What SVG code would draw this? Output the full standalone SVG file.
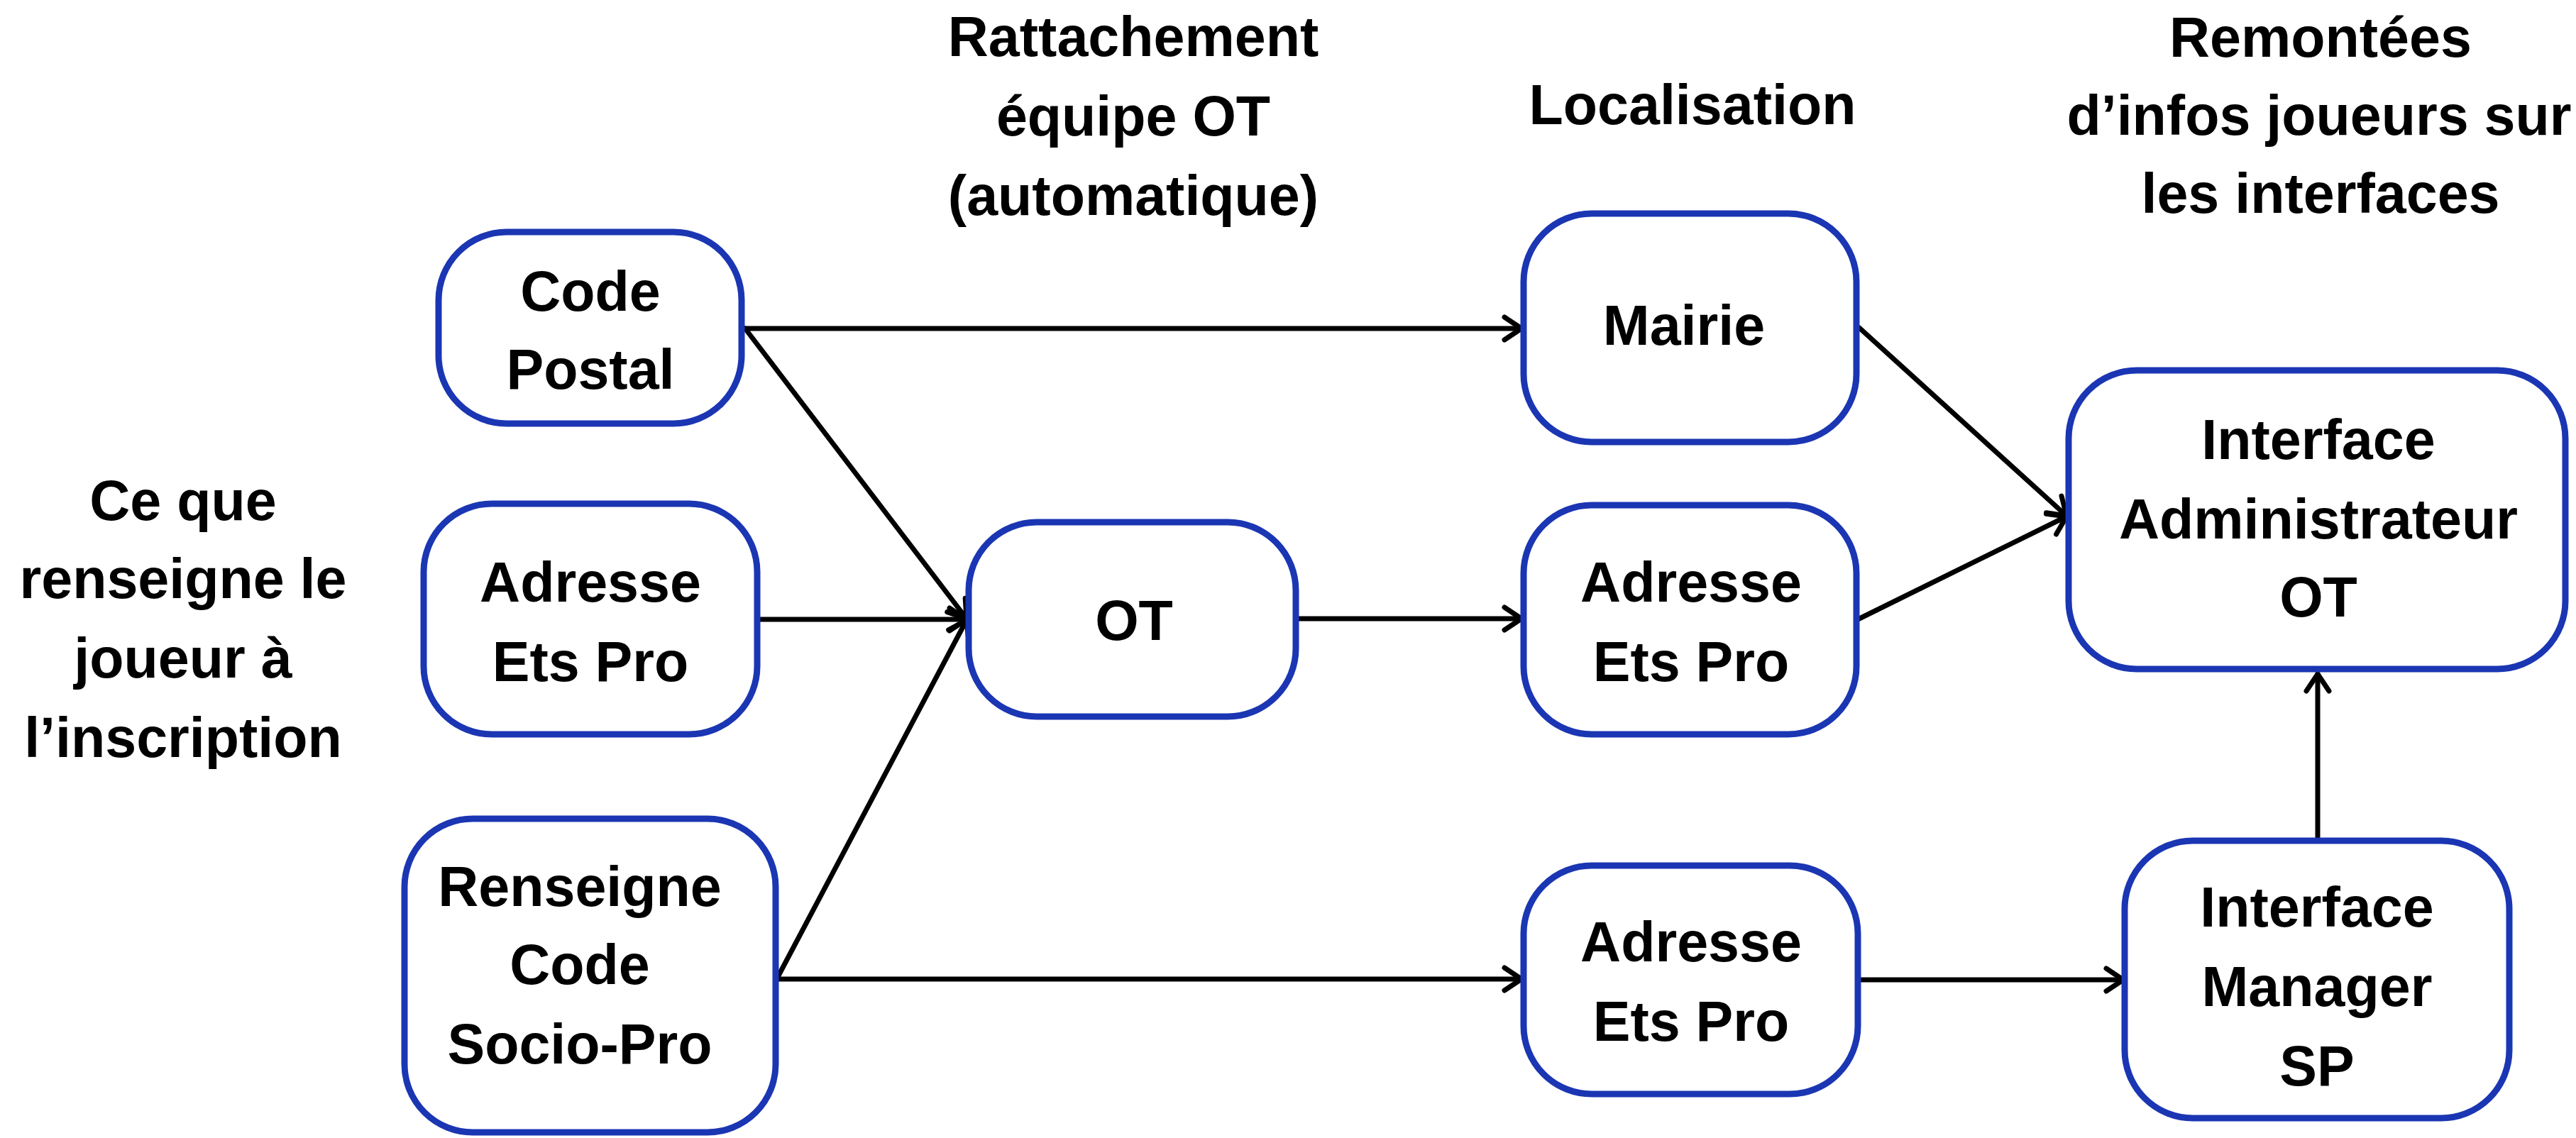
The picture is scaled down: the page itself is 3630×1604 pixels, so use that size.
<svg xmlns="http://www.w3.org/2000/svg" width="3630" height="1604" viewBox="0 0 3630 1604">
<style>
.box{fill:#ffffff;stroke:#1b36b3;stroke-width:9}
.t{font-family:"Liberation Sans",Arial,sans-serif;font-weight:bold;font-size:79px;fill:#000;text-anchor:middle}
.c{stroke:#000;stroke-width:7;fill:none;stroke-linecap:round}
</style>
<defs>
<marker id="ah" markerUnits="userSpaceOnUse" markerWidth="60" markerHeight="60" viewBox="-40 -30 50 60" refX="0" refY="0" orient="auto">
<path d="M-24,-16 L0,0 L-24,16" fill="none" stroke="#000" stroke-width="7" stroke-linecap="round" stroke-linejoin="round"/>
</marker>
</defs>
<rect width="3630" height="1604" fill="#ffffff"/>
<g id="headers">
<text class="t" x="1597" y="79">Rattachement</text>
<text class="t" x="1597" y="191">équipe OT</text>
<text class="t" x="1597" y="303">(automatique)</text>
<text class="t" x="2385" y="175">Localisation</text>
<text class="t" x="3270" y="80">Remontées</text>
<text class="t" x="3268" y="190">d’infos joueurs sur</text>
<text class="t" x="3270" y="300">les interfaces</text>
<text class="t" x="258" y="733">Ce que</text>
<text class="t" x="258" y="843">renseigne le</text>
<text class="t" x="258" y="955">joueur à</text>
<text class="t" x="258" y="1067">l’inscription</text>
</g>
<g id="connectors">
<line class="c" x1="1050" y1="463" x2="2144" y2="463" marker-end="url(#ah)"/>
<line class="c" x1="1050" y1="463" x2="1362" y2="872" marker-end="url(#ah)"/>
<line class="c" x1="1068" y1="873" x2="1362" y2="873" marker-end="url(#ah)"/>
<line class="c" x1="1095" y1="1379" x2="1362" y2="874" marker-end="url(#ah)"/>
<line class="c" x1="1095" y1="1380" x2="2144" y2="1380" marker-end="url(#ah)"/>
<line class="c" x1="1829" y1="872" x2="2144" y2="872" marker-end="url(#ah)"/>
<line class="c" x1="2620" y1="462" x2="2912" y2="727" marker-end="url(#ah)"/>
<line class="c" x1="2620" y1="872" x2="2912" y2="728" marker-end="url(#ah)"/>
<line class="c" x1="2620" y1="1381" x2="2992" y2="1381" marker-end="url(#ah)"/>
<line class="c" x1="3266" y1="1185" x2="3266" y2="950" marker-end="url(#ah)"/>
</g>
<g id="node-code-postal">
<rect class="box" x="618" y="327" width="427" height="270" rx="96" ry="96"/>
<text class="t" x="832" y="438">Code</text>
<text class="t" x="832" y="548">Postal</text>
</g>
<g id="node-adresse-1">
<rect class="box" x="597" y="710" width="470" height="325" rx="96" ry="96"/>
<text class="t" x="832" y="848">Adresse</text>
<text class="t" x="832" y="960">Ets Pro</text>
</g>
<g id="node-renseigne">
<rect class="box" x="570" y="1154" width="523" height="442" rx="96" ry="96"/>
<text class="t" x="817" y="1277">Renseigne</text>
<text class="t" x="817" y="1387">Code</text>
<text class="t" x="817" y="1499">Socio-Pro</text>
</g>
<g id="node-ot">
<rect class="box" x="1365" y="736" width="461" height="274" rx="96" ry="96"/>
<text class="t" x="1598" y="902">OT</text>
</g>
<g id="node-mairie">
<rect class="box" x="2147" y="301" width="469" height="322" rx="96" ry="96"/>
<text class="t" x="2373" y="486">Mairie</text>
</g>
<g id="node-adresse-2">
<rect class="box" x="2147" y="712" width="469" height="323" rx="96" ry="96"/>
<text class="t" x="2383" y="848">Adresse</text>
<text class="t" x="2383" y="960">Ets Pro</text>
</g>
<g id="node-adresse-3">
<rect class="box" x="2147" y="1220" width="471" height="322" rx="96" ry="96"/>
<text class="t" x="2383" y="1355">Adresse</text>
<text class="t" x="2383" y="1467">Ets Pro</text>
</g>
<g id="node-admin">
<rect class="box" x="2915" y="522" width="700" height="421" rx="96" ry="96"/>
<text class="t" x="3267" y="647">Interface</text>
<text class="t" x="3267" y="759">Administrateur</text>
<text class="t" x="3267" y="869">OT</text>
</g>
<g id="node-manager">
<rect class="box" x="2994" y="1185" width="542" height="391" rx="96" ry="96"/>
<text class="t" x="3265" y="1306">Interface</text>
<text class="t" x="3265" y="1418">Manager</text>
<text class="t" x="3265" y="1530">SP</text>
</g>
</svg>
